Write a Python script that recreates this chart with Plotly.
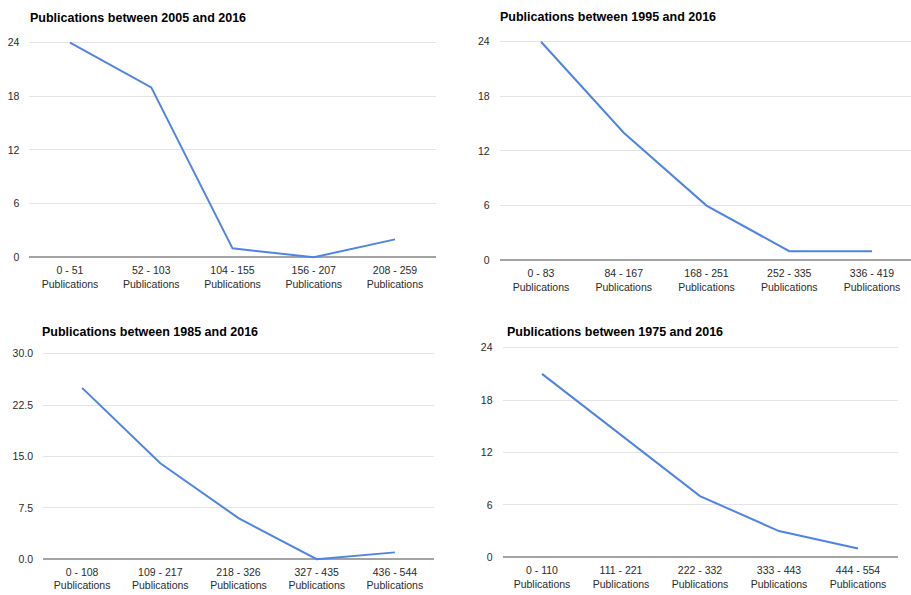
import plotly.graph_objects as go

# ---------------- data ----------------
titles = [
    "Publications between 2005 and 2016",
    "Publications between 1995 and 2016",
    "Publications between 1985 and 2016",
    "Publications between 1975 and 2016",
]
cats_2005 = ["0 - 51", "52 - 103", "104 - 155", "156 - 207", "208 - 259"]
vals_2005 = [24, 19, 1, 0, 2]
cats_1995 = ["0 - 83", "84 - 167", "168 - 251", "252 - 335", "336 - 419"]
vals_1995 = [24, 14, 6, 1, 1]
cats_1985 = ["0 - 108", "109 - 217", "218 - 326", "327 - 435", "436 - 544"]
vals_1985 = [25, 14, 6, 0, 1]
cats_1975 = ["0 - 110", "111 - 221", "222 - 332", "333 - 443", "444 - 554"]
vals_1975 = [21, 14, 7, 3, 1]
yticks_a = [0, 6, 12, 18, 24]
yticks_b = [0, 7.5, 15, 22.5, 30]
yticktext_b = ["0.0", "7.5", "15.0", "22.5", "30.0"]
suffix = "Publications"

# ---------------- layout constants (pixels) ----------------
W, H = 911, 595
LINE = "#4f84e2"
GRID = "#e4e4e4"
BASE = "#a3a3a3"
TICKFONT = dict(family="Liberation Sans, Arial, sans-serif", size=10.5, color="#2a2a2a")
TITLEFONT = dict(family="Liberation Sans, Arial, sans-serif", size=12.5, color="#000000")

panels = [
    dict(cats=cats_2005, vals=vals_2005, x0=29.4, x1=435.6, yb=257, yt=41, top=24,
         tx=28, ty=16, ticks=yticks_a, ticktext=None, title=titles[0]),
    dict(cats=cats_1995, vals=vals_1995, x0=499.6, x1=913.4, yb=260, yt=40, top=24,
         tx=498, ty=15, ticks=yticks_a, ticktext=None, title=titles[1]),
    dict(cats=cats_1985, vals=vals_1985, x0=43.0, x1=434.0, yb=561, yt=354, top=30,
         tx=40, ty=332, ticks=yticks_b, ticktext=yticktext_b, title=titles[2]),
    dict(cats=cats_1975, vals=vals_1975, x0=502.5, x1=897.5, yb=559, yt=348, top=24,
         tx=505, ty=332, ticks=yticks_a, ticktext=None, title=titles[3]),
]

fig = go.Figure()
annotations = []
PAD = 0.02

for i, p in enumerate(panels, start=1):
    n = len(p["cats"])
    labels = [f"{c}<br>{suffix}" for c in p["cats"]]
    xa = "x" if i == 1 else f"x{i}"
    ya = "y" if i == 1 else f"y{i}"
    fig.add_trace(go.Scatter(
        x=labels, y=p["vals"], mode="lines",
        line=dict(color=LINE, width=2), xaxis=xa, yaxis=ya,
        showlegend=False, hoverinfo="x+y",
    ))
    step = (p["x1"] - p["x0"]) / n
    x1 = min(p["x1"], W)
    xr_end = -0.5 + (x1 - p["x0"]) / step
    xdom = [p["x0"] / W, x1 / W]
    pix_per_unit = (p["yb"] - p["yt"]) / p["top"]
    pad = PAD * p["top"]
    ylo, yhi = -pad, p["top"] + pad
    ytop_px = p["yt"] - pad * pix_per_unit
    ybot_px = p["yb"] + pad * pix_per_unit
    ydom = [1 - ybot_px / H, 1 - ytop_px / H]

    xkey = "xaxis" if i == 1 else f"xaxis{i}"
    ykey = "yaxis" if i == 1 else f"yaxis{i}"
    fig.update_layout(**{
        xkey: dict(domain=xdom, anchor=ya, type="category", range=[-0.5, xr_end],
                   showgrid=False, zeroline=False, showline=False, ticks="",
                   tickfont=TICKFONT, ticklabelstandoff=1, fixedrange=True,
                   categoryorder="array", categoryarray=labels),
        ykey: dict(domain=ydom, anchor=xa, range=[ylo, yhi],
                   tickvals=p["ticks"],
                   ticktext=p["ticktext"] if p["ticktext"] else [str(t) for t in p["ticks"]],
                   showgrid=True, gridcolor=GRID, gridwidth=1,
                   zeroline=True, zerolinecolor=BASE, zerolinewidth=2,
                   showline=False, ticks="", tickfont=TICKFONT,
                   ticklabelstandoff=9, fixedrange=True),
    })
    annotations.append(dict(
        text=f"<b>{p['title']}</b>", xref="paper", yref="paper",
        x=p["tx"] / W, y=1 - p["ty"] / H, xanchor="left", yanchor="middle",
        showarrow=False, font=TITLEFONT,
    ))

fig.update_layout(
    width=W, height=H,
    margin=dict(l=0, r=0, t=0, b=0),
    paper_bgcolor="white", plot_bgcolor="white",
    annotations=annotations,
)

fig.write_html(
    "out.html",
    config={"displayModeBar": False},
    post_script="document.body.style.margin='0';document.body.style.overflow='hidden';",
)
